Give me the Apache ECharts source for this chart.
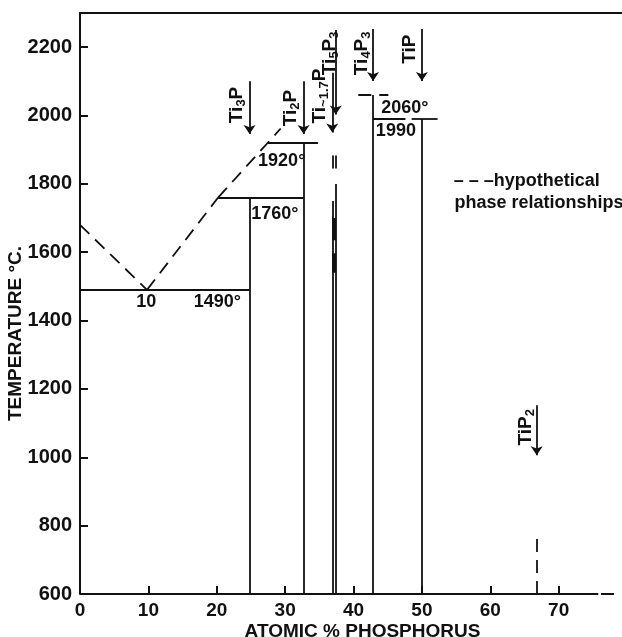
<!DOCTYPE html>
<html>
<head>
<meta charset="utf-8">
<script src="https://cdn.jsdelivr.net/npm/echarts@6/dist/echarts.min.js"></script>
<style>
  html, body { margin: 0; padding: 0; background: #fff; }
  #main { width: 622px; height: 637px; }
</style>
</head>
<body>
<div id="main"></div>
<script>
// tick labels
const xTicks = [0, 10, 20, 30, 40, 50, 60, 70];
const yTicks = [600, 800, 1000, 1200, 1400, 1600, 1800, 2000, 2200];

// solid phase boundaries [x1, y1, x2, y2]
const solidLines = [
  [0, 1490, 24.8, 1490],      // eutectic
  [24.8, 600, 24.8, 1760],    // Ti3P
  [20.2, 1760, 32.7, 1760],   // peritectic 1760
  [32.7, 600, 32.7, 1920],    // Ti2P
  [27.5, 1920, 34.8, 1920],   // 1920
  [36.9, 600, 36.9, 1750],    // Ti~1.7P
  [37.4, 600, 37.4, 1800],    // Ti5P3
  [42.86, 600, 42.86, 2060],  // Ti4P3
  [42.86, 1990, 47.6, 1990],  // 1990
  [48.5, 1990, 52.3, 1990],
  [50, 600, 50, 1990],        // TiP
  [0, 600, 75.8, 600]         // base line
];

// hypothetical (dashed) boundaries
const dashedLines = [
  [0, 1680, 9.8, 1490],
  [9.8, 1490, 20.2, 1760],
  [20.2, 1760, 29.35, 1962],
  [40.7, 2062, 45.1, 2062],
  [36.9, 1845, 36.9, 1892],
  [37.4, 1845, 37.4, 1892],
  [66.8, 600, 66.8, 767],
  [76.2, 600, 80, 600]
];

// darker strokes between the two close lines
const heavyLines = [
  [37.15, 1635, 37.15, 1700],
  [37.15, 1540, 37.15, 1597]
];

// compound arrows: x, y start, y end
const arrows = [
  [24.8, 2100, 1946],
  [32.7, 2100, 1946],
  [36.9, 2125, 1950],
  [37.4, 2250, 2003],
  [42.86, 2253, 2101],
  [50, 2253, 2101],
  [66.8, 1152, 1006]
];

// compound labels (rich text), centre x, centre y
const compoundNames = ['{n|Ti}{s|3}{n|P}', '{n|Ti}{s|2}{n|P}', '{n|Ti}{s|~1.7}{n|P}',
  '{n|Ti}{s|5}{n|P}{s|3}', '{n|Ti}{s|4}{n|P}{s|3}', '{n|TiP}', '{n|TiP}{s|2}'];
const compoundX = [23.0, 30.8, 35.1, 36.5, 41.2, 48.3, 65.2];
const compoundY = [2031, 2022, 2057, 2182, 2182, 2194, 1088];

// temperature notes
const noteTexts = ['10', '1490°', '1760°', '1920°', '2060°', '1990'];
const noteX = [9.7, 20.1, 28.5, 29.5, 47.5, 46.2];
const noteY = [1453, 1453, 1712, 1867, 2023, 1955];

// key text
const keyTexts = ['– – –hypothetical', 'phase relationships'];
const keyX = [54.6, 54.7];
const keyY = [1809, 1745];

const ink = '#111';
const font = 'Liberation Sans';

const toCoords = (s) => ({ coords: [[s[0], s[1]], [s[2], s[3]]] });
const hidden = { color: 'rgba(0,0,0,0)', opacity: 1 };

const chart = echarts.init(document.getElementById('main'));

const option = {
  animation: false,
  backgroundColor: '#fff',
  grid: { left: 80, right: -5, top: 13, bottom: 43, containLabel: false, outerBoundsMode: 'none' },
  xAxis: [
    {
      type: 'value',
      min: 0,
      max: 80,
      interval: 10,
      name: 'ATOMIC % PHOSPHORUS',
      nameLocation: 'middle',
      nameGap: 28,
      nameMoveOverlap: false,
      nameTextStyle: { fontFamily: font, fontWeight: 'bold', fontSize: 19, color: ink, padding: [0, 0, 0, 18] },
      axisLine: { show: false },
      axisTick: { show: true, inside: true, length: 8, lineStyle: { color: ink, width: 2 } },
      axisLabel: {
        margin: 7,
        fontFamily: font, fontWeight: 'bold', fontSize: 19, color: ink,
        formatter: (v) => (xTicks.indexOf(v) >= 0 ? String(v) : '')
      },
      splitLine: { show: false }
    },
    {
      type: 'value',
      position: 'top',
      min: 0,
      max: 80,
      axisLine: { show: true, lineStyle: { color: ink, width: 2 } },
      axisTick: { show: false },
      axisLabel: { show: false },
      splitLine: { show: false }
    }
  ],
  yAxis: {
    type: 'value',
    min: 600,
    max: 2300,
    interval: 200,
    name: 'TEMPERATURE °C.',
    nameLocation: 'middle',
    nameGap: 55,
    nameMoveOverlap: false,
    nameTextStyle: { fontFamily: font, fontWeight: 'bold', fontSize: 19, color: ink, padding: [0, 60, 0, 0] },
    axisLine: { show: true, lineStyle: { color: ink, width: 2 } },
    axisTick: { show: true, inside: true, length: 8, lineStyle: { color: ink, width: 2 } },
    axisLabel: {
      margin: 8,
      showMaxLabel: false,
      fontFamily: font, fontWeight: 'bold', fontSize: 20, color: ink,
      formatter: (v) => (yTicks.indexOf(v) >= 0 ? String(v) : '')
    },
    splitLine: { show: false }
  },
  series: [
    {
      type: 'lines',
      coordinateSystem: 'cartesian2d',
      silent: true,
      lineStyle: { color: ink, width: 1.8, opacity: 1, curveness: 0 },
      data: solidLines.map(toCoords)
    },
    {
      type: 'lines',
      coordinateSystem: 'cartesian2d',
      silent: true,
      lineStyle: { color: ink, width: 1.8, opacity: 1, type: [13, 8], curveness: 0 },
      data: dashedLines.map(toCoords)
    },
    {
      type: 'lines',
      coordinateSystem: 'cartesian2d',
      silent: true,
      lineStyle: { color: ink, width: 4, opacity: 1, curveness: 0 },
      data: heavyLines.map(toCoords)
    },
    {
      type: 'lines',
      coordinateSystem: 'cartesian2d',
      silent: true,
      symbol: ['none', 'arrow'],
      symbolSize: [0, 9],
      lineStyle: { color: ink, width: 1.8, opacity: 1, curveness: 0 },
      data: arrows.map((a) => ({ coords: [[a[0], a[1]], [a[0], a[2]]] }))
    },
    {
      type: 'scatter',
      silent: true,
      symbolSize: 1,
      itemStyle: hidden,
      label: {
        show: true,
        position: 'inside',
        rotate: 90,
        textBorderWidth: 0,
        formatter: (p) => compoundNames[p.dataIndex],
        rich: {
          n: { fontFamily: font, fontWeight: 'bold', fontSize: 19, color: ink, lineHeight: 22, textBorderWidth: 0 },
          s: { fontFamily: font, fontWeight: 'bold', fontSize: 13, color: ink, lineHeight: 22, verticalAlign: 'bottom', textBorderWidth: 0 }
        }
      },
      data: compoundX.map((x, i) => [x, compoundY[i]])
    },
    {
      type: 'scatter',
      silent: true,
      symbolSize: 1,
      itemStyle: hidden,
      label: {
        show: true,
        position: 'inside',
        textBorderWidth: 0,
        formatter: (p) => noteTexts[p.dataIndex],
        fontFamily: font, fontWeight: 'bold', fontSize: 18, color: ink
      },
      data: noteX.map((x, i) => [x, noteY[i]])
    },
    {
      type: 'scatter',
      silent: true,
      symbolSize: 1,
      itemStyle: hidden,
      label: {
        show: true,
        position: 'right',
        distance: 0,
        formatter: (p) => keyTexts[p.dataIndex],
        fontFamily: font, fontWeight: 'bold', fontSize: 18, color: ink
      },
      data: keyX.map((x, i) => [x, keyY[i]])
    }
  ]
};

chart.setOption(option);
</script>
</body>
</html>
